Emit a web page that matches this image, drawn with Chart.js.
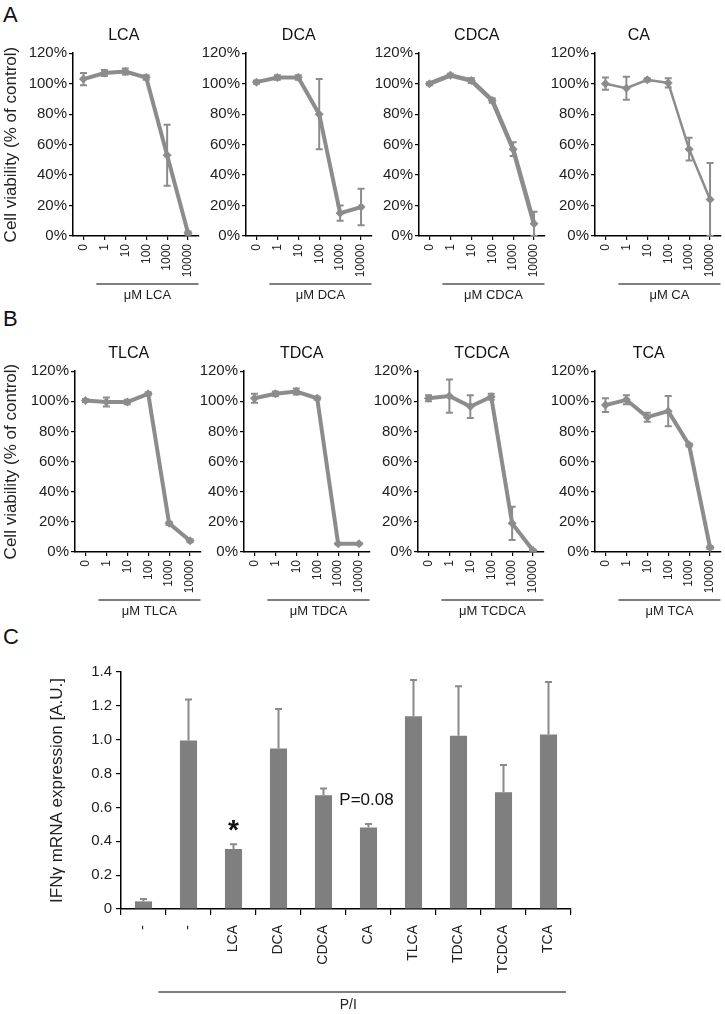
<!DOCTYPE html>
<html>
<head>
<meta charset="utf-8">
<script src="https://cdn.jsdelivr.net/npm/chart.js@4/dist/chart.umd.min.js"></script>
<style>
  body { margin: 0; background: #fff; width: 725px; height: 1014px; position: relative; overflow: hidden; font-family: "Liberation Sans", Arial, sans-serif; }
  canvas { position: absolute; }
  .letter { position: absolute; font-size: 22px; color: #111; line-height: 25px; }
</style>
</head>
<body>
<div class="letter" style="left:3px;top:2px">A</div>
<div class="letter" style="left:3px;top:306px">B</div>
<div class="letter" style="left:3px;top:624px">C</div>
<script>
// doses on the x axis of panels A and B
const doses = ['0', '1', '10', '100', '1000', '10000'];

// cell viability (% of control), mean and error
const lca = [103, 107, 108, 104, 53, 2];
const lcaErr = [4, 2, 2, 1.5, 20, 1];
const dca = [101, 104, 104, 80, 15, 19];
const dcaErr = [1, 1.5, 1.5, 23, 5, 12];
const cdca = [100, 105.5, 102, 89, 57, 8];
const cdcaErr = [1, 1, 1.5, 1.5, 4.5, 8];
const ca = [100, 97, 102.5, 100.5, 57, 24];
const caErr = [4, 7.5, 1, 3, 7.5, 24];

const tlca = [100.5, 99.5, 99.5, 105, 19, 7.5];
const tlcaErr = [1, 3, 1.5, 1, 1, 1];
const tdca = [102, 105, 106.5, 102, 5.5, 5.5];
const tdcaErr = [3, 1.5, 2, 1, 0.5, 0.5];
const tcdca = [102, 103.5, 96.5, 103, 19, 1];
const tcdcaErr = [2, 11, 7.5, 2, 11, 0.5];
const tca = [97.5, 101, 89.5, 93.5, 71, 3];
const tcaErr = [4.5, 3, 3, 10, 1, 1];

// panel C
const groups = ['-', '-', 'LCA', 'DCA', 'CDCA', 'CA', 'TLCA', 'TDCA', 'TCDCA', 'TCA'];
const ifng = [0.045, 0.995, 0.355, 0.948, 0.672, 0.482, 1.138, 1.024, 0.69, 1.031];
const ifngErr = [0.014, 0.243, 0.028, 0.234, 0.04, 0.02, 0.215, 0.292, 0.16, 0.31];

const grey = '#8c8c8c';
const fontFamily = '"Liberation Sans", Arial, sans-serif';

// draws the error bars of every dataset that has an `errors` array
const errorBars = {
	id: 'errorBars',
	afterDatasetsDraw(chart) {
		const ctx = chart.ctx;
		const xs = chart.scales.x, ys = chart.scales.y;
		chart.data.datasets.forEach(ds => {
			if (!ds.errors) return;
			ctx.save();
			ctx.strokeStyle = ds.errorColor || grey;
			ctx.lineWidth = ds.errorWidth || 2;
			ds.data.forEach((v, i) => {
				const e = ds.errors[i];
				const px = xs.getPixelForValue(i);
				const top = ys.getPixelForValue(v + e);
				const bot = ys.getPixelForValue(ds.upOnly ? v : Math.max(v - e, 0));
				const cap = ds.capWidth || 3.5;
				ctx.beginPath();
				ctx.moveTo(px, top);
				ctx.lineTo(px, bot);
				ctx.moveTo(px - cap, top);
				ctx.lineTo(px + cap, top);
				if (!ds.upOnly) {
					ctx.moveTo(px - cap, bot);
					ctx.lineTo(px + cap, bot);
				}
				ctx.stroke();
			});
			ctx.restore();
		});
	}
};

// panel title, the line under the x labels with its caption, plus free notes
const groupLine = {
	id: 'groupLine',
	afterDraw(chart, args, opts) {
		const ctx = chart.ctx;
		const xs = chart.scales.x, ys = chart.scales.y;
		const area = chart.chartArea;
		if (opts.title) {
			ctx.save();
			ctx.fillStyle = '#111';
			ctx.font = '16px ' + fontFamily;
			ctx.textAlign = 'center';
			ctx.textBaseline = 'middle';
			ctx.fillText(opts.title, (area.left + area.right) / 2 + opts.titleShift, area.top - 18);
			ctx.restore();
		}
		if (opts.text) {
			const x0 = xs.getPixelForValue(opts.from) - opts.lead;
			const x1 = area.right - (opts.trim || 0);
			const y0 = area.bottom + opts.lineDy;
			ctx.save();
			ctx.strokeStyle = '#555';
			ctx.lineWidth = 1.5;
			ctx.beginPath();
			ctx.moveTo(x0, y0);
			ctx.lineTo(x1, y0);
			ctx.stroke();
			ctx.fillStyle = '#222';
			ctx.font = opts.font;
			ctx.textAlign = 'center';
			ctx.textBaseline = 'middle';
			ctx.fillText(opts.text, (x0 + x1) / 2 + (opts.textShift || 0), area.bottom + opts.textDy);
			ctx.restore();
		}
		(opts.notes || []).forEach(n => {
			const ds = chart.data.datasets[0];
			const topVal = ds.data[n.index] + ds.errors[n.index];
			ctx.save();
			ctx.fillStyle = '#111';
			ctx.font = n.font;
			ctx.textAlign = 'center';
			ctx.textBaseline = n.baseline;
			ctx.fillText(n.text, xs.getPixelForValue(n.index) + (n.dx || 0), ys.getPixelForValue(topVal) - n.dy);
			ctx.restore();
		});
	}
};

function addCanvas(left, top, w, h) {
	const canvas = document.createElement('canvas');
	canvas.width = w;
	canvas.height = h;
	canvas.style.left = left + 'px';
	canvas.style.top = top + 'px';
	canvas.style.width = w + 'px';
	canvas.style.height = h + 'px';
	document.body.appendChild(canvas);
	return canvas;
}

function makePanel(axisX, top, bottom, title, titleShift, vals, errs, first, lineWidth) {
	const yw = first ? axisX : 50;
	const xh = 75;
	const w = yw + 126 + 4;
	const h = bottom - top + xh;
	const canvas = addCanvas(axisX - yw, top, w, h);

	new Chart(canvas, {
		type: 'line',
		data: {
			labels: doses,
			datasets: [{
				data: vals,
				errors: errs,
				borderColor: grey,
				backgroundColor: grey,
				borderWidth: lineWidth,
				pointStyle: 'rectRot',
				pointRadius: 4.5,
				pointBorderWidth: 0,
				tension: 0
			}]
		},
		options: {
			responsive: false,
			animation: false,
			layout: { padding: { left: 0, right: 4, top: 33.2, bottom: 0 } },
			plugins: {
				legend: { display: false },
				tooltip: { enabled: false },
				groupLine: {
					title: title, titleShift: titleShift,
					text: '\u03BCM ' + title, from: 1, lead: 8, lineDy: 48, textDy: 59, font: '13px ' + fontFamily
				}
			},
			scales: {
				x: {
					offset: true,
					grid: { drawOnChartArea: false, offset: false, color: '#000', lineWidth: 1.2, tickLength: 4 },
					border: { color: '#000', width: 1.5 },
					ticks: { color: '#222', font: { family: fontFamily, size: 12 }, minRotation: 90, maxRotation: 90, padding: 4 },
					afterFit(scale) {
						scale.height = xh;
						scale.paddingLeft = 0;
						scale.paddingRight = 0;
					}
				},
				y: {
					min: 0,
					max: 120,
					grid: { drawOnChartArea: false, color: '#000', lineWidth: 1.2, tickLength: 4 },
					border: { color: '#000', width: 1.5 },
					ticks: { stepSize: 20, color: '#222', padding: 2, font: { family: fontFamily, size: 15 }, callback: v => v + '%' },
					title: {
						display: first,
						text: 'Cell viability (% of control)',
						color: '#222',
						font: { family: fontFamily, size: 17 },
						padding: { top: 1, bottom: 0 }
					},
					afterFit(scale) {
						scale.width = yw;
						scale.paddingTop = 0;
						scale.paddingBottom = 0;
					}
				}
			}
		},
		plugins: [errorBars, groupLine]
	});
}

// row A
makePanel(73, 20, 236, 'LCA', -12, lca, lcaErr, true, 4);
makePanel(246, 20, 236, 'DCA', -10, dca, dcaErr, false, 4);
makePanel(419, 20, 236, 'CDCA', -5, cdca, cdcaErr, false, 4.5);
makePanel(595, 20, 236, 'CA', -19, ca, caErr, false, 2.5);
// row B
makePanel(75, 338, 552, 'TLCA', -9, tlca, tlcaErr, true, 4);
makePanel(244, 338, 552, 'TDCA', -5, tdca, tdcaErr, false, 4);
makePanel(418, 338, 552, 'TCDCA', 1, tcdca, tcdcaErr, false, 4);
makePanel(595, 338, 552, 'TCA', -9, tca, tcaErr, false, 4);

// panel C: bar chart
const barCanvas = addCanvas(40, 650, 536, 364);
new Chart(barCanvas, {
	type: 'bar',
	data: {
		labels: groups,
		datasets: [{
			data: ifng,
			errors: ifngErr,
			upOnly: true,
			errorColor: '#8a8a8a',
			errorWidth: 2,
			capWidth: 3.5,
			backgroundColor: '#7f7f7f',
			barPercentage: 0.76,
			categoryPercentage: 0.5
		}]
	},
	options: {
		responsive: false,
		animation: false,
		layout: { padding: { left: 0, right: 5, top: 22, bottom: 0 } },
		plugins: {
			legend: { display: false },
			tooltip: { enabled: false },
			groupLine: {
				text: 'P/I', from: 1, lead: 30, trim: 5, lineDy: 83, textDy: 96, textShift: -14,
				font: '14px ' + fontFamily,
				notes: [
					{ index: 2, text: '*', font: 'bold 28px ' + fontFamily, baseline: 'alphabetic', dy: 5 },
					{ index: 5, text: 'P=0.08', font: '17px ' + fontFamily, baseline: 'middle', dy: 24, dx: -2 }
				]
			}
		},
		scales: {
			x: {
				grid: { drawOnChartArea: false, color: '#000', lineWidth: 1.2, tickLength: 6 },
				border: { color: '#000', width: 1.5 },
				ticks: { color: '#222', font: { family: fontFamily, size: 14 }, minRotation: 90, maxRotation: 90, padding: 10 },
				afterFit(scale) {
					scale.height = 105;
					scale.paddingLeft = 0;
					scale.paddingRight = 0;
				}
			},
			y: {
				min: 0,
				max: 1.4,
				grid: { drawOnChartArea: false, color: '#000', lineWidth: 1.2, tickLength: 5 },
				border: { color: '#000', width: 1.5 },
				ticks: { stepSize: 0.2, color: '#222', padding: 4, font: { family: fontFamily, size: 15 },
					callback: v => v === 0 ? '0' : v.toFixed(1) },
				title: {
					display: true,
					text: 'IFN\u03B3 mRNA expression [A.U.]',
					color: '#222',
					font: { family: fontFamily, size: 17 },
					padding: { top: 7, bottom: 0 }
				},
				afterFit(scale) {
					scale.width = 81;
					scale.paddingTop = 0;
					scale.paddingBottom = 0;
				}
			}
		}
	},
	plugins: [errorBars, groupLine]
});
</script>
</body>
</html>
